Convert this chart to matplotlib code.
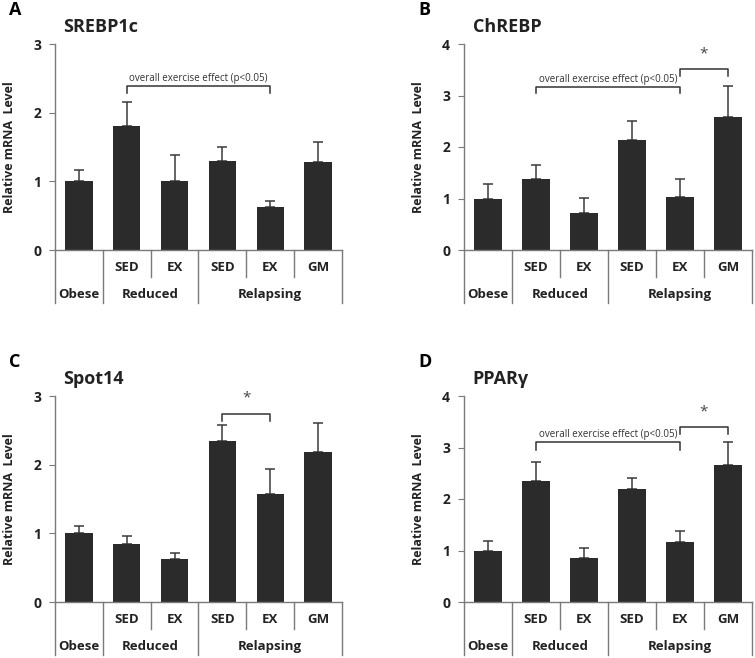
import matplotlib.pyplot as plt
import matplotlib.transforms as mtransforms

plt.rcParams['font.family'] = ['Open Sans', 'DejaVu Sans']

sub_labels = ['', 'SED', 'EX', 'SED', 'EX', 'GM']
group_labels = ['Obese', 'Reduced', 'Relapsing']

srebp_mean = [1.00, 1.81, 1.01, 1.29, 0.62, 1.28]
srebp_top = [1.16, 2.16, 1.39, 1.50, 0.72, 1.58]
chrebp_mean = [1.00, 1.37, 0.72, 2.14, 1.02, 2.59]
chrebp_top = [1.28, 1.66, 1.01, 2.51, 1.38, 3.18]
spot14_mean = [1.00, 0.85, 0.62, 2.35, 1.57, 2.19]
spot14_top = [1.11, 0.96, 0.71, 2.58, 1.93, 2.60]
pparg_mean = [1.00, 2.35, 0.85, 2.19, 1.17, 2.66]
pparg_top = [1.19, 2.72, 1.04, 2.41, 1.38, 3.10]

# (panel, title, ymax, means, tops, brackets: (i, j, y, drop, text, is_star))
panels = [
    ('A', 'SREBP1c', 3, srebp_mean, srebp_top,
     [(1, 4, 2.39, 0.11, 'overall exercise effect (p<0.05)', False)]),
    ('B', 'ChREBP', 4, chrebp_mean, chrebp_top,
     [(1, 4, 3.17, 0.12, 'overall exercise effect (p<0.05)', False),
      (4, 5, 3.51, 0.13, '*', True)]),
    ('C', 'Spot14', 3, spot14_mean, spot14_top,
     [(3, 4, 2.74, 0.10, '*', True)]),
    ('D', 'PPAR\u03b3', 4, pparg_mean, pparg_top,
     [(1, 4, 3.10, 0.14, 'overall exercise effect (p<0.05)', False),
      (4, 5, 3.39, 0.13, '*', True)]),
]

positions = [
    [55 / 755, 408 / 658, 287 / 755, 206 / 658],
    [464 / 755, 408 / 658, 288 / 755, 206 / 658],
    [55 / 755, 56 / 658, 287 / 755, 206 / 658],
    [464 / 755, 56 / 658, 288 / 755, 206 / 658],
]

fig = plt.figure(figsize=(7.55, 6.58), dpi=100)
line_c = '#7a7a7a'
bar_c = '#2b2b2b'
text_c = '#222222'

for (letter, title, ymax, means, tops, brackets), pos in zip(panels, positions):
    ax = fig.add_axes(pos)
    x = list(range(len(means)))
    ax.bar(x, means, width=0.57, color=bar_c, zorder=2)
    up = [t - m for t, m in zip(tops, means)]
    ax.errorbar(x, means, yerr=[[0] * len(up), up], fmt='none',
                ecolor='#3a3a3a', elinewidth=1.1, capsize=3.5, capthick=1.1, zorder=1)
    ax.set_xlim(-0.5, 5.5)
    ax.set_ylim(0, ymax)
    ax.set_yticks(range(ymax + 1))
    ax.set_xticks([])
    for s in ['top', 'right']:
        ax.spines[s].set_visible(False)
    for s in ['left', 'bottom']:
        ax.spines[s].set_color(line_c)
        ax.spines[s].set_linewidth(1.0)
    ax.tick_params(axis='y', length=4, color=line_c, labelsize=10, pad=6)
    for lab in ax.get_yticklabels():
        lab.set_fontweight('bold')
        lab.set_color(text_c)
    ax.set_ylabel('Relative mRNA  Level', fontsize=9, fontweight='bold',
                  color=text_c, labelpad=12)
    ax.text(0.03, 1.04, title, transform=ax.transAxes, fontsize=13,
            fontweight='bold', color=text_c, va='bottom', ha='left')
    ax.text(-0.16, 1.12, letter, transform=ax.transAxes, fontsize=13,
            fontweight='bold', color='black', va='bottom', ha='left')

    # category table below the axis
    tr = mtransforms.blended_transform_factory(ax.transData, ax.transAxes)
    short_y, long_y = -0.131, -0.257
    for b in [0.5, 1.5, 2.5, 3.5, 4.5, 5.5]:
        bottom = long_y if b in (0.5, 2.5, 5.5) else short_y
        ax.plot([b, b], [0, bottom], color=line_c, lw=1.0, transform=tr, clip_on=False)
    ax.plot([-0.5, -0.5], [0, long_y], color=line_c, lw=1.0, transform=tr, clip_on=False)
    for i, lab in enumerate(sub_labels):
        ax.text(i, -0.087, lab, transform=tr, ha='center', va='center',
                fontsize=9.5, fontweight='bold', color=text_c)
    for gx, lab in zip([0, 1.5, 4], group_labels):
        ax.text(gx, -0.218, lab, transform=tr, ha='center', va='center',
                fontsize=9.5, fontweight='bold', color=text_c)

    for i, j, y, drop, txt, is_star in brackets:
        ax.plot([i, i, j, j], [y - drop, y, y, y - drop], color='#333333',
                lw=1.1, clip_on=False)
        if is_star:
            ax.text((i + j) / 2, y + 0.075 * ymax, txt, ha='center', va='center',
                    fontsize=11, color='#444444')
        else:
            ax.text((i + j) / 2, y + 0.01 * ymax, txt, ha='center', va='bottom',
                    fontsize=7, color='#333333')

fig.savefig('out.png', dpi=100)
